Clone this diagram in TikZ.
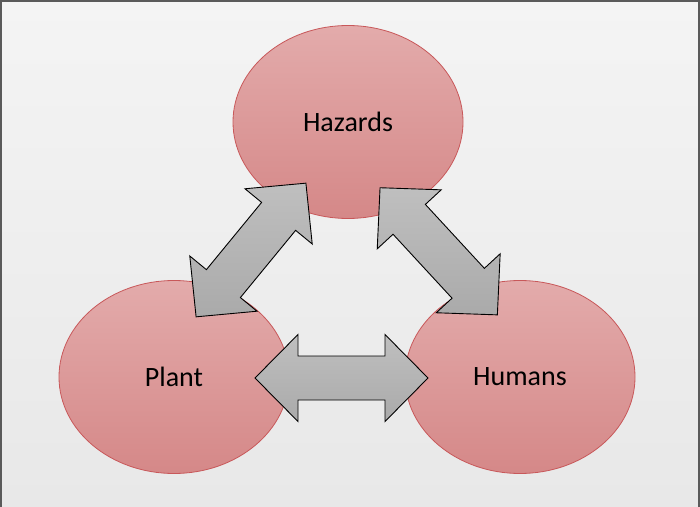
\documentclass[tikz,border=0pt]{standalone}
\usepackage{fontspec}
\setmainfont{Carlito}
\usetikzlibrary{shapes.geometric}

\definecolor{bgtop}{HTML}{F4F4F4}
\definecolor{bgbot}{HTML}{E8E8E8}
\definecolor{frame}{HTML}{5A5A5A}
\definecolor{blobtop}{HTML}{E3ABAB}
\definecolor{blobbot}{HTML}{D58888}
\definecolor{blobedge}{HTML}{C8585A}
\definecolor{arrtop}{HTML}{BFBFBF}
\definecolor{arrbot}{HTML}{AAAAAA}

\tikzset{
  blob/.style={ellipse, draw=blobedge, line width=0.8pt,
    top color=blobtop, bottom color=blobbot,
    minimum width=230pt, minimum height=193pt, inner sep=0pt,
    font=\fontsize{28}{33}\selectfont, text=black},
  blockarrow/.style={draw=black, line width=0.9pt, line join=miter,
    top color=arrtop, bottom color=arrbot},
  % double-headed block arrow, 173 long, centred on the origin
  dblarrow/.pic={
    \path[blockarrow] (-86.5,0) -- (-43.5,43.5) -- (-43.5,22) -- (43.5,22)
      -- (43.5,43.5) -- (86.5,0) -- (43.5,-43.5) -- (43.5,-22)
      -- (-43.5,-22) -- (-43.5,-43.5) -- cycle;
  }
}

\begin{document}
\begin{tikzpicture}[x=1pt, y=1pt]
  % background panel
  \useasboundingbox (0,0) rectangle (700,506);
  \shade[top color=bgtop, bottom color=bgbot] (0,0) rectangle (700,506);
  \draw[frame, line width=1.6pt] (0.8,-2) -- (0.8,505.2) -- (699.2,505.2) -- (699.2,-2);

  % the three circles
  \node[blob] (hazards) at (348,384) {Hazards};
  \node[blob] (plant)   at (174,129) {Plant};
  \node[blob] (humans)  at (520,129) {Humans};

  % two-way links between them
  \coordinate (ph) at (251,256);
  \coordinate (hh) at (438.7,254.7);
  \coordinate (pu) at (341.5,128);
  \pic[rotate=50.6] at (ph) {dblarrow};
  \pic[rotate=-47.3] at (hh) {dblarrow};
  \pic at (pu) {dblarrow};
\end{tikzpicture}
\end{document}
